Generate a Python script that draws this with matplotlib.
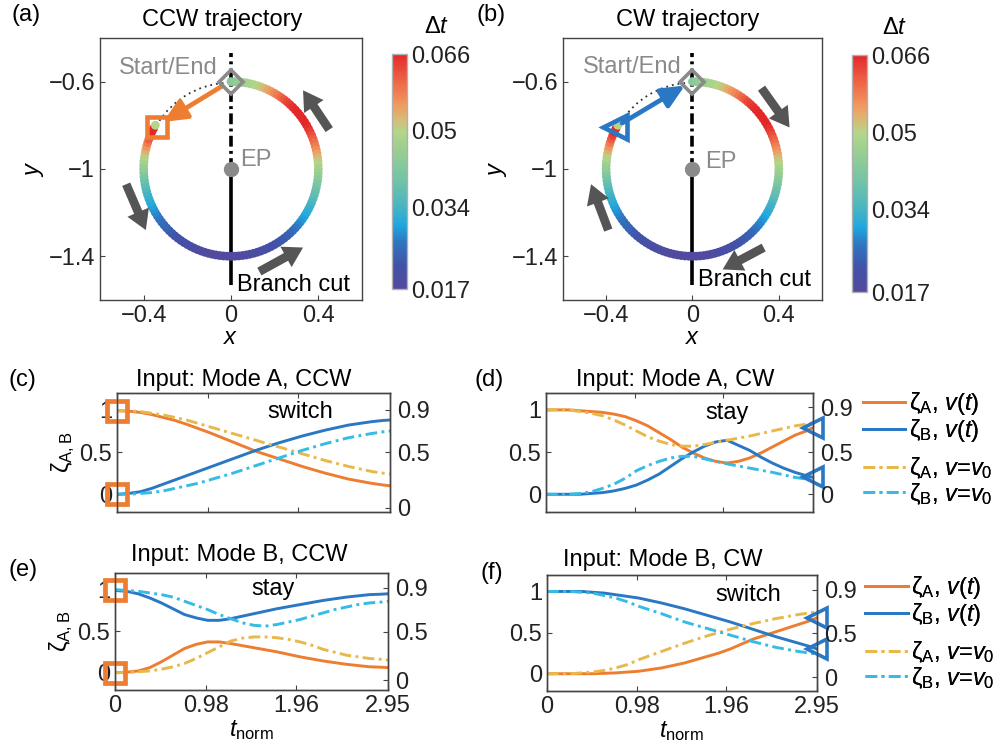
import numpy as np
import matplotlib
matplotlib.use("Agg")
import matplotlib.pyplot as plt
from matplotlib.colors import LinearSegmentedColormap
from matplotlib.patches import Arc, FancyArrowPatch

plt.rcParams.update({
    "font.family": ["Liberation Sans", "DejaVu Sans"],
    "font.size": 17,
    "mathtext.fontset": "custom",
    "mathtext.rm": "Liberation Sans",
    "mathtext.it": "Liberation Sans:italic",
    "mathtext.bf": "Liberation Sans:bold",
    "axes.linewidth": 1.0,
    "axes.edgecolor": "#444444",
    "xtick.direction": "in",
    "ytick.direction": "in",
    "xtick.major.size": 3.5,
    "ytick.major.size": 3.5,
    "xtick.color": "#444444",
    "ytick.color": "#444444",
    "xtick.labelcolor": "#222222",
    "ytick.labelcolor": "#222222",
})

# ---- trajectory data (loop around the EP) ----
EP_XY = (0.0, -1.0)
RADIUS = 0.4
# position along the loop (deg from +x axis) and the local time step there
theta_deg = [90, 87.5, 85, 82.5, 80, 77.5, 75, 72.5, 70, 67.5,
             65, 62.5, 60, 57.5, 55, 52.5, 50, 47.5, 45, 42.5,
             40, 37.5, 35, 32.5, 30, 27.5, 25, 22.5, 20, 17.5,
             15, 12.5, 10, 7.5, 5, 2.5, 0, -2.5, -5, -7.5,
             -10, -12.5, -15, -17.5, -20, -22.5, -25, -27.5, -30, -32.5,
             -35, -37.5, -40, -42.5, -45, -47.5, -50, -52.5, -55, -57.5,
             -60, -62.5, -65, -67.5, -70, -72.5, -75, -77.5, -80, -82.5,
             -85, -87.5, -90, -92.5, -95, -97.5, -100, -102.5, -105, -107.5,
             -110, -112.5, -115, -117.5, -120, -122.5, -125, -127.5, -130, -132.5,
             -135, -137.5, -140, -142.5, -145, -147.5, -150, -152.5, -155, -157.5,
             -160, -162.5, -165, -167.5, -170, -172.5, -175, -177.5, -180, -182.5,
             -185, -187.5, -190, -192.5, -195, -197.5, -200, -202.5, -205, -207.5,
             -210]
dt_vals = [0.043, 0.044, 0.045, 0.046, 0.047, 0.048, 0.049, 0.050, 0.051, 0.0525,
           0.054, 0.0555, 0.057, 0.0585, 0.060, 0.0615, 0.063, 0.064, 0.065, 0.0655,
           0.066, 0.066, 0.066, 0.066, 0.066, 0.065, 0.064, 0.0625, 0.061, 0.0595,
           0.058, 0.0565, 0.055, 0.053, 0.051, 0.0495, 0.048, 0.0465, 0.045, 0.0435,
           0.042, 0.0405, 0.039, 0.038, 0.037, 0.0355, 0.034, 0.033, 0.032, 0.031,
           0.030, 0.029, 0.028, 0.027, 0.026, 0.025, 0.024, 0.0235, 0.023, 0.0225,
           0.022, 0.0215, 0.021, 0.0205, 0.020, 0.0195, 0.019, 0.0185, 0.018, 0.0175,
           0.017, 0.017, 0.017, 0.017, 0.017, 0.017, 0.017, 0.017, 0.018, 0.018,
           0.018, 0.0185, 0.019, 0.0195, 0.020, 0.0205, 0.021, 0.0215, 0.022, 0.0225,
           0.023, 0.024, 0.025, 0.0255, 0.026, 0.027, 0.028, 0.029, 0.030, 0.031,
           0.032, 0.033, 0.034, 0.0355, 0.037, 0.0385, 0.040, 0.042, 0.044, 0.0455,
           0.047, 0.049, 0.051, 0.0535, 0.056, 0.0585, 0.061, 0.0635, 0.066, 0.066,
           0.050]
DT_MIN, DT_MAX = 0.017, 0.066
cbar_ticks = [0.017, 0.034, 0.05, 0.066]
cbar_labels = ["0.017", "0.034", "0.05", "0.066"]

cmap_colors = [(0.00, "#524a9e"), (0.10, "#4252a8"), (0.20, "#2f76c2"), (0.27, "#1fa6df"),
               (0.36, "#4cb6c0"), (0.47, "#74c4a6"), (0.60, "#9ccf8f"), (0.67, "#b2d68a"),
               (0.72, "#d4bd78"), (0.78, "#f09c62"), (0.88, "#ee6848"), (1.00, "#e4282a")]
dt_cmap = LinearSegmentedColormap.from_list("dt", cmap_colors)

# gray direction arrows: (tail, head)
ccw_arrows = [((0.45, -0.82), (0.33, -0.64)),
              ((-0.48, -1.07), (-0.39, -1.28)),
              ((0.13, -1.47), (0.33, -1.36))]
cw_arrows = [((0.32, -0.63), (0.45, -0.81)),
             ((-0.39, -1.28), (-0.47, -1.07)),
             ((0.33, -1.36), (0.14, -1.46))]

# ---- mode evolution data ----
t_norm = [0, 0.125, 0.25, 0.375, 0.5, 0.625, 0.75, 0.875, 1.0, 1.125, 1.25, 1.375, 1.5,
          1.625, 1.75, 1.875, 2.0, 2.125, 2.25, 2.375, 2.5, 2.625, 2.75, 2.875, 2.95]
t_ticks = [0, 0.98, 1.96, 2.95]
t_labels = ["0", "0.98", "1.96", "2.95"]

zA_vt_c = [0.99, 0.985, 0.97, 0.945, 0.91, 0.875, 0.83, 0.78, 0.73, 0.675, 0.62, 0.565, 0.51,
           0.465, 0.42, 0.375, 0.33, 0.29, 0.25, 0.215, 0.18, 0.155, 0.13, 0.11, 0.10]
zB_vt_c = [0.0, 0.01, 0.03, 0.07, 0.12, 0.17, 0.22, 0.27, 0.32, 0.37, 0.42, 0.47, 0.52,
           0.565, 0.61, 0.65, 0.69, 0.725, 0.76, 0.79, 0.82, 0.84, 0.86, 0.875, 0.88]
zA_v0_c = [0.99, 0.99, 0.98, 0.96, 0.94, 0.91, 0.88, 0.84, 0.80, 0.76, 0.72, 0.68, 0.64,
           0.60, 0.56, 0.52, 0.48, 0.44, 0.40, 0.365, 0.33, 0.30, 0.27, 0.25, 0.24]
zB_v0_c = [0.0, 0.0, 0.01, 0.02, 0.04, 0.07, 0.10, 0.13, 0.17, 0.21, 0.25, 0.295, 0.34,
           0.385, 0.43, 0.475, 0.52, 0.56, 0.60, 0.635, 0.67, 0.695, 0.72, 0.74, 0.75]

zA_vt_d = [1.0, 1.0, 1.0, 0.99, 0.98, 0.97, 0.95, 0.92, 0.87, 0.81, 0.73, 0.65, 0.56,
           0.49, 0.43, 0.39, 0.37, 0.39, 0.43, 0.49, 0.56, 0.63, 0.70, 0.75, 0.79]
zB_vt_d = [0.0, 0.0, 0.0, 0.0, 0.01, 0.02, 0.04, 0.07, 0.11, 0.17, 0.24, 0.33, 0.42,
           0.50, 0.57, 0.62, 0.64, 0.58, 0.52, 0.44, 0.37, 0.31, 0.26, 0.22, 0.20]
zA_v0_d = [1.0, 1.0, 1.0, 0.98, 0.96, 0.93, 0.88, 0.82, 0.75, 0.68, 0.63, 0.59, 0.57,
           0.57, 0.59, 0.615, 0.64, 0.665, 0.69, 0.72, 0.75, 0.78, 0.81, 0.83, 0.85]
zB_v0_d = [0.0, 0.0, 0.0, 0.01, 0.03, 0.07, 0.12, 0.19, 0.28, 0.34, 0.39, 0.43, 0.45,
           0.45, 0.42, 0.39, 0.36, 0.335, 0.31, 0.285, 0.26, 0.23, 0.20, 0.18, 0.16]

zA_vt_e = [0.0, 0.005, 0.02, 0.06, 0.13, 0.21, 0.29, 0.34, 0.37, 0.37, 0.35, 0.325, 0.30,
           0.275, 0.25, 0.22, 0.19, 0.165, 0.14, 0.12, 0.10, 0.085, 0.07, 0.065, 0.06]
zB_vt_e = [0.99, 0.98, 0.95, 0.90, 0.84, 0.77, 0.70, 0.66, 0.63, 0.63, 0.65, 0.68, 0.71,
           0.74, 0.77, 0.795, 0.82, 0.845, 0.87, 0.89, 0.91, 0.925, 0.94, 0.945, 0.95]
zA_v0_e = [0.0, 0.0, 0.01, 0.02, 0.04, 0.07, 0.11, 0.17, 0.24, 0.31, 0.38, 0.415, 0.43,
           0.43, 0.42, 0.40, 0.37, 0.33, 0.28, 0.245, 0.21, 0.19, 0.17, 0.16, 0.15]
zB_v0_e = [1.0, 0.99, 0.98, 0.96, 0.94, 0.91, 0.86, 0.81, 0.76, 0.70, 0.65, 0.60, 0.57,
           0.56, 0.58, 0.61, 0.64, 0.68, 0.72, 0.76, 0.79, 0.82, 0.84, 0.85, 0.86]

zA_vt_f = [0.0, 0.0, 0.0, 0.0, 0.0, 0.005, 0.01, 0.02, 0.03, 0.05, 0.07, 0.10, 0.13,
           0.17, 0.21, 0.25, 0.30, 0.36, 0.42, 0.465, 0.51, 0.555, 0.60, 0.645, 0.68]
zB_vt_f = [1.0, 1.0, 1.0, 1.0, 0.99, 0.98, 0.96, 0.94, 0.92, 0.89, 0.86, 0.825, 0.79,
           0.75, 0.71, 0.67, 0.63, 0.585, 0.54, 0.495, 0.45, 0.41, 0.37, 0.33, 0.30]
zA_v0_f = [0.0, 0.0, 0.0, 0.01, 0.02, 0.04, 0.07, 0.11, 0.17, 0.22, 0.27, 0.32, 0.37,
           0.415, 0.46, 0.50, 0.54, 0.575, 0.61, 0.64, 0.67, 0.695, 0.72, 0.74, 0.75]
zB_v0_f = [1.0, 1.0, 1.0, 0.99, 0.98, 0.95, 0.92, 0.875, 0.82, 0.775, 0.73, 0.68, 0.63,
           0.59, 0.55, 0.51, 0.47, 0.43, 0.39, 0.355, 0.32, 0.295, 0.27, 0.25, 0.24]

# right-axis labels (0, 0.5, 0.9) as placed in each panel, in left-axis units
right_labels = ["0", "0.5", "0.9"]
right_pos_c = [-0.16, 0.5, 1.0]
right_pos_d = [0.0, 0.5, 1.03]
right_pos_e = [-0.09, 0.49, 1.02]
right_pos_f = [-0.04, 0.49, 1.02]

ORANGE = "#ED7D31"
BLUE = "#2A77C4"
YELLOW = "#E8B94A"
CYAN = "#35BCE6"
GRAY = "#8a8a8a"
DASHDOT = (0, (4, 1.5, 1, 1.5))

fig = plt.figure(figsize=(10.03, 7.48), dpi=100)


def trajectory_panel(ax, cax, arrows, path_color, path_tail, path_head, end_marker, end_xy,
                     txt):
    # branch cut
    ax.plot([0, 0], [-1.0, -1.53], color="black", lw=2.6, zorder=1, solid_capstyle="butt")
    ax.plot([0, 0], [-1.0, -0.47], color="black", lw=2.6, ls=(0, (3, 1.2, 0.8, 1.2)), zorder=1)
    th = np.deg2rad(theta_deg)
    xs = EP_XY[0] + RADIUS * np.cos(th)
    ys = EP_XY[1] + RADIUS * np.sin(th)
    sc = ax.scatter(xs, ys, c=dt_vals, cmap=dt_cmap, vmin=DT_MIN, vmax=DT_MAX, s=40,
                    edgecolors="none", zorder=2)
    ax.add_patch(Arc(EP_XY, 2 * 0.395, 2 * 0.395, theta1=95, theta2=147, ls=(0, (1, 2.2)),
                     lw=1.3, color="#333333", zorder=3))
    ax.add_patch(FancyArrowPatch(path_tail, path_head,
                                 arrowstyle="-|>,head_length=0.7,head_width=0.32",
                                 mutation_scale=20, lw=3.4, color=path_color,
                                 shrinkA=0, shrinkB=0, zorder=4))
    for tail, head in arrows:
        ax.add_patch(FancyArrowPatch(tail, head,
                                     arrowstyle="simple,head_length=1.0,head_width=1.2,tail_width=0.45",
                                     mutation_scale=14, color="#555555", lw=0,
                                     shrinkA=0, shrinkB=0, zorder=3))
    ax.plot([end_xy[0]], [end_xy[1]], marker=end_marker[0], ms=end_marker[1], mfc="none",
            mec=path_color, mew=3.3, zorder=5)
    ax.plot([0], [-0.6], marker="D", ms=12.5, mfc="none", mec=GRAY, mew=2.6, zorder=5)
    ax.plot([EP_XY[0]], [EP_XY[1]], marker="o", ms=10, color=GRAY, zorder=5)
    ax.text(txt["ep"][0], txt["ep"][1], "EP", color=GRAY, ha="left", va="center")
    ax.text(txt["start"][0], txt["start"][1], "Start/End", color=GRAY, ha="right",
            va="center")
    ax.text(txt["cut"][0], txt["cut"][1], "Branch cut", color="black", ha="left",
            va="center")
    ax.set_xlim(-0.6, 0.6)
    ax.set_ylim(-1.6, -0.4)
    ax.set_xticks([-0.4, 0, 0.4])
    ax.set_xticklabels(["\u22120.4", "0", "0.4"])
    ax.set_yticks([-1.4, -1, -0.6])
    ax.set_yticklabels(["\u22121.4", "\u22121", "\u22120.6"])
    ax.set_xlabel("$x$", labelpad=0)
    ax.set_ylabel("$y$", labelpad=2)
    cb = fig.colorbar(sc, cax=cax)
    cb.set_ticks(cbar_ticks)
    cb.set_ticklabels(cbar_labels)
    cb.ax.tick_params(length=0, pad=3)
    cb.outline.set_edgecolor("#b0b0b0")
    cb.outline.set_linewidth(1.0)


ax_a = fig.add_axes([0.0997, 0.599, 0.2612, 0.3503])
cax_a = fig.add_axes([0.3908, 0.6136, 0.015, 0.3142])
trajectory_panel(ax_a, cax_a, ccw_arrows, ORANGE, (-0.04, -0.62), (-0.31, -0.785),
                 ("s", 15), (-0.34, -0.81),
                 {"ep": (0.04, -0.957), "start": (-0.06, -0.537), "cut": (0.027, -1.532)})

ax_b = fig.add_axes([0.5613, 0.599, 0.2582, 0.3503])
cax_b = fig.add_axes([0.8495, 0.6096, 0.015, 0.3168])
trajectory_panel(ax_b, cax_b, cw_arrows, BLUE, (-0.326, -0.79), (-0.035, -0.618),
                 ("<", 17), (-0.36, -0.81),
                 {"ep": (0.058, -0.967), "start": (-0.049, -0.532), "cut": (0.025, -1.51)})


def mode_panel(ax, zA_vt, zB_vt, zA_v0, zB_v0, right_pos, show_x, show_y, end_marker, note,
               note_xy):
    lw = 2.1
    l1, = ax.plot(t_norm, zA_vt, color=ORANGE, lw=lw, label=r"$\mathrm{\zeta}_\mathrm{A}$, $v(t)$")
    l2, = ax.plot(t_norm, zB_vt, color=BLUE, lw=lw, label=r"$\mathrm{\zeta}_\mathrm{B}$, $v(t)$")
    l3, = ax.plot(t_norm, zA_v0, color=YELLOW, lw=lw, ls=DASHDOT,
                  label=r"$\mathrm{\zeta}_\mathrm{A}$, $v$=$v_0$")
    l4, = ax.plot(t_norm, zB_v0, color=CYAN, lw=lw, ls=DASHDOT,
                  label=r"$\mathrm{\zeta}_\mathrm{B}$, $v$=$v_0$")
    if end_marker == "start":
        ax.plot([t_norm[0], t_norm[0]], [zA_vt[0], zB_vt[0]], ls="none", marker="s", ms=14,
                mfc="none", mec=ORANGE, mew=3.4, clip_on=False, zorder=6)
    else:
        ax.plot([t_norm[-1], t_norm[-1]], [zA_vt[-1], zB_vt[-1]], ls="none", marker="<",
                ms=14, mfc="none", mec=BLUE, mew=2.6, clip_on=False, zorder=6)
    ax.text(note_xy[0], note_xy[1], note, ha="center", va="center")
    ax.set_xlim(0, 2.95)
    ax.set_ylim(-0.21, 1.2)
    ax.set_xticks(t_ticks)
    ax.set_xticklabels(t_labels if show_x else [])
    ax.tick_params(top=True)
    ax.set_yticks([0, 0.5, 1])
    ax.set_yticklabels(["0", "0.5", "1"])
    if show_x:
        ax.set_xlabel(r"$t_\mathrm{norm}$", labelpad=1)
    if show_y:
        ax.set_ylabel(r"$\mathrm{\zeta}_\mathrm{A,B}$", labelpad=2)
    axr = ax.twinx()
    axr.set_ylim(ax.get_ylim())
    axr.set_yticks(right_pos)
    axr.set_yticklabels(right_labels)
    axr.tick_params(pad=5)
    return [l1, l2, l3, l4]


ax_c = fig.add_axes([0.1167, 0.3155, 0.2722, 0.1591])
mode_panel(ax_c, zA_vt_c, zB_vt_c, zA_v0_c, zB_v0_c, right_pos_c, False, True, "start",
           "switch", (1.98, 0.98))
ax_d = fig.add_axes([0.5444, 0.3155, 0.2662, 0.1591])
hd = mode_panel(ax_d, zA_vt_d, zB_vt_d, zA_v0_d, zB_v0_d, right_pos_d, False, False, "end",
                "stay", (2.0, 0.96))
ax_e = fig.add_axes([0.1147, 0.0775, 0.2722, 0.1564])
mode_panel(ax_e, zA_vt_e, zB_vt_e, zA_v0_e, zB_v0_e, right_pos_e, True, True, "start",
           "stay", (1.71, 1.01))
ax_f = fig.add_axes([0.5454, 0.0762, 0.2692, 0.1551])
hf = mode_panel(ax_f, zA_vt_f, zB_vt_f, zA_v0_f, zB_v0_f, right_pos_f, True, False, "end",
                "switch", (2.2, 0.96))


def add_legends(handles, x0, y_rows):
    for pair, y in ((handles[:2], y_rows[0]), (handles[2:], y_rows[1])):
        leg = fig.legend(handles=pair, loc="upper left",
                         bbox_to_anchor=(x0 / 1003, 1 - y / 748),
                         frameon=False, borderpad=0, borderaxespad=0, handlelength=1.8,
                         handletextpad=0.15, labelspacing=0.0)
        fig.add_artist(leg)


add_legends(hd, 863, (390, 455))
add_legends(hf, 865, (574, 639))

# titles and panel labels
titles = [("CCW trajectory", 222, 20), ("CW trajectory", 688, 20),
          ("Input: Mode A, CCW", 244, 380), ("Input: Mode A, CW", 675, 380),
          ("Input: Mode B, CCW", 239, 555), ("Input: Mode B, CW", 663, 560)]
for s, x, y in titles:
    fig.text(x / 1003, 1 - y / 748, s, ha="center", va="center")
panel_labels = [("(a)", 26, 15), ("(b)", 491, 15), ("(c)", 22, 380), ("(d)", 489, 380),
                ("(e)", 23, 570), ("(f)", 492, 573)]
for s, x, y in panel_labels:
    fig.text(x / 1003, 1 - y / 748, s, ha="center", va="center")
fig.text(437 / 1003, 1 - 27 / 748, r"$\Delta t$", ha="center", va="center")
fig.text(895 / 1003, 1 - 28 / 748, r"$\Delta t$", ha="center", va="center")

fig.savefig("out.png", dpi=100)
